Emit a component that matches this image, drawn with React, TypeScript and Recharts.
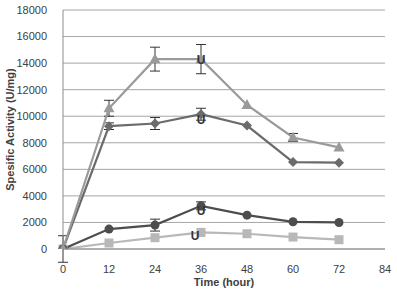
import React from 'react';
import { LineChart, Line, XAxis, YAxis, CartesianGrid, ErrorBar, Label } from 'recharts';

const hours = [0, 12, 24, 36, 48, 60, 72];
const triangleVals = [0, 10600, 14300, 14300, 10850, 8400, 7650];
const diamondVals = [0, 9250, 9450, 10150, 9300, 6550, 6500];
const circleVals = [0, 1500, 1800, 3250, 2550, 2050, 2000];
const squareVals = [0, 450, 850, 1250, 1150, 900, 700];

const triangleErr = [1000, 600, 900, 1100, 0, 300, 0];
const diamondErr = [0, 250, 450, 450, 0, 0, 0];
const circleErr = [0, 0, 450, 300, 0, 0, 0];

const xTicks = [0, 12, 24, 36, 48, 60, 72, 84];
const yTicks = [0, 2000, 4000, 6000, 8000, 10000, 12000, 14000, 16000, 18000];

const data = hours.map((h, i) => ({
  h,
  tri: triangleVals[i],
  dia: diamondVals[i],
  cir: circleVals[i],
  sq: squareVals[i],
  triErr: triangleErr[i],
  diaErr: diamondErr[i],
  cirErr: circleErr[i],
}));

const font = '"Liberation Sans", Arial, sans-serif';

const Tri = (p: any) => (
  <polygon
    key={p.index}
    points={`${p.cx},${p.cy - 6} ${p.cx - 5.5},${p.cy + 4} ${p.cx + 5.5},${p.cy + 4}`}
    fill={p.fill}
  />
);
const Dia = (p: any) => (
  <polygon
    key={p.index}
    points={`${p.cx},${p.cy - 5} ${p.cx + 5},${p.cy} ${p.cx},${p.cy + 5} ${p.cx - 5},${p.cy}`}
    fill={p.fill}
  />
);
const Cir = (p: any) => <circle key={p.index} cx={p.cx} cy={p.cy} r={4.5} fill={p.fill} />;
const Sq = (p: any) => <rect key={p.index} x={p.cx - 4.5} y={p.cy - 4.5} width={9} height={9} fill={p.fill} />;

// stray "U" marks at the 36 h points
const uLabel = (dx: number, dy: number) => (p: any) =>
  p.index === 3 ? (
    <text key={p.index} x={p.x + dx} y={p.y + dy} fontSize={12} fontWeight="bold" fill="#333" fontFamily={font} textAnchor="middle">
      U
    </text>
  ) : null;

export default function App() {
  return (
    <div style={{ position: 'absolute', left: 0, top: 0, background: '#fff' }}>
      <LineChart width={397} height={294} data={data} margin={{ top: 10, right: 12, bottom: 0, left: 0 }}>
        <CartesianGrid vertical={false} stroke="#a6a6a6" strokeWidth={1} />
        <XAxis
          dataKey="h"
          type="number"
          domain={[0, 84]}
          ticks={xTicks}
          height={45}
          axisLine={{ stroke: '#8c8c8c' }}
          tickLine={false}
          tick={{ fill: '#404040', fontSize: 11, fontFamily: font }}
          tickMargin={10}
        >
          <Label value="Time (hour)" position="insideBottom" offset={8} style={{ fontSize: 11, fontWeight: 'bold', fill: '#404040', fontFamily: font }} />
        </XAxis>
        <YAxis
          domain={[0, 18000]}
          allowDataOverflow
          ticks={yTicks}
          width={63}
          axisLine={{ stroke: '#8c8c8c' }}
          tickLine={false}
          tick={{ fill: '#404040', fontSize: 11, fontFamily: font }}
          tickMargin={10}
        >
          <Label value="Spesific Activity (U/mg)" angle={-90} position="insideLeft" offset={10} style={{ textAnchor: 'middle', fontSize: 11, fontWeight: 'bold', fill: '#404040', fontFamily: font }} />
        </YAxis>
        <Line dataKey="sq" stroke="#b8b8b8" strokeWidth={2.2} fill="#b8b8b8" dot={Sq} isAnimationActive={false} label={uLabel(-6, 8)} />
        <Line dataKey="cir" stroke="#4d4d4d" strokeWidth={2.2} fill="#4d4d4d" dot={Cir} isAnimationActive={false} label={uLabel(0, 9)}>
          <ErrorBar dataKey="cirErr" width={5} stroke="#333" strokeWidth={1} direction="y" />
        </Line>
        <Line dataKey="dia" stroke="#6b6b6b" strokeWidth={2.2} fill="#6b6b6b" dot={Dia} isAnimationActive={false} label={uLabel(0, 10)}>
          <ErrorBar dataKey="diaErr" width={5} stroke="#333" strokeWidth={1} direction="y" />
        </Line>
        <Line dataKey="tri" stroke="#9a9a9a" strokeWidth={2.2} fill="#9a9a9a" dot={Tri} isAnimationActive={false} label={uLabel(0, 5)}>
          <ErrorBar dataKey="triErr" width={5} stroke="#333" strokeWidth={1} direction="y" />
        </Line>
      </LineChart>
    </div>
  );
}
